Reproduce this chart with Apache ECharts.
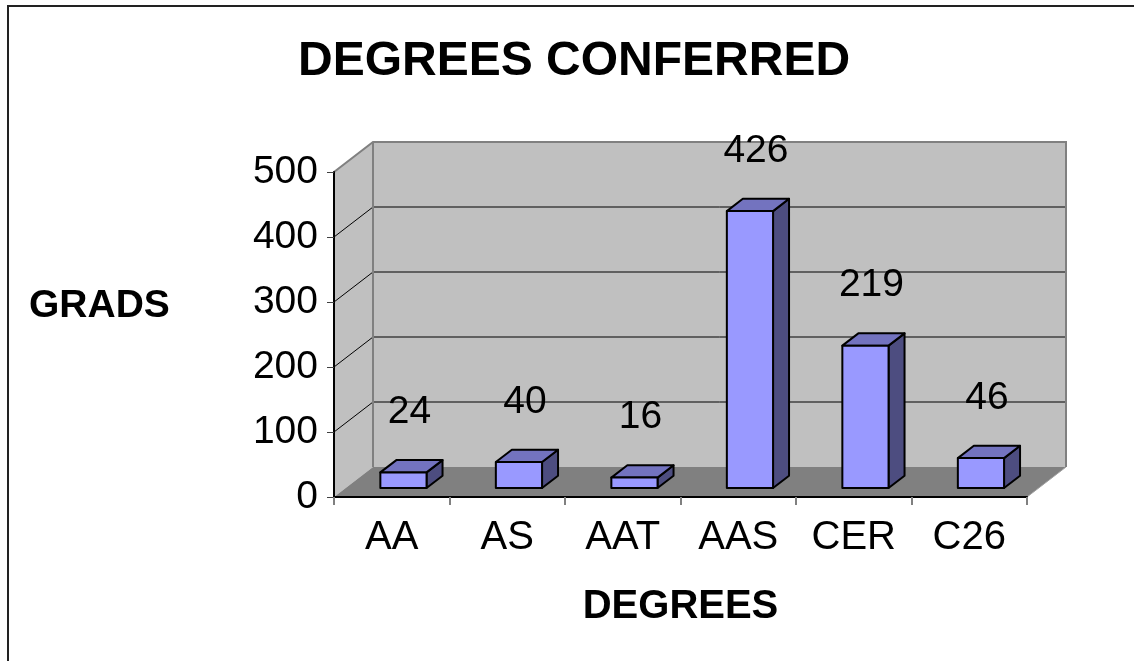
<!DOCTYPE html>
<html>
<head>
<meta charset="utf-8">
<title>Degrees Conferred</title>
<script src="https://cdn.jsdelivr.net/npm/echarts@6/dist/echarts.min.js"></script>
<style>
  html, body { margin: 0; padding: 0; background: #fff; }
  #main { width: 1134px; height: 661px; }
</style>
</head>
<body>
<div id="main"></div>
<script>
// chart data
var degrees = ['AA', 'AS', 'AAT', 'AAS', 'CER', 'C26'];
var grads = [24, 40, 16, 426, 219, 46];
var gradTicks = [0, 100, 200, 300, 400, 500];

var FONT = '"Liberation Sans", Arial, sans-serif';
var DX = 39, DY = 30;                   // depth of the 3d box (px)
var BAR_FRONT = 0.3, BAR_DEPTH = 0.41;  // where the bars sit inside that depth
var BAR_W = 0.4;                        // bar width as share of a category

var chart = echarts.init(document.getElementById('main'));

// back wall, side wall, floor and gridlines
function renderWalls(params, api) {
    var cs = params.coordSys;
    var x0 = cs.x, x1 = cs.x + cs.width;
    var top = gradTicks[gradTicks.length - 1];
    var yb = api.coord([0, 0])[1], yt = api.coord([0, top])[1];
    var kids = [];
    kids.push({type: 'polygon', shape: {points: [[x0, yt], [x0 + DX, yt - DY], [x0 + DX, yb - DY], [x0, yb]]}, style: {fill: '#c0c0c0'}});
    kids.push({type: 'rect', shape: {x: x0 + DX, y: yt - DY, width: x1 - x0, height: yb - yt}, style: {fill: '#c0c0c0'}});
    kids.push({type: 'polygon', shape: {points: [[x0, yb], [x0 + DX, yb - DY], [x1 + DX, yb - DY], [x1, yb]]}, style: {fill: '#808080'}});
    gradTicks.forEach(function (v) {
        if (v === 0 || v === top) return;
        var y = api.coord([0, v])[1];
        kids.push({type: 'polyline', shape: {points: [[x0, y], [x0 + DX, y - DY], [x1 + DX, y - DY]]}, style: {stroke: '#000', lineWidth: 1, fill: null}});
    });
    // wall edges
    kids.push({type: 'polyline', shape: {points: [[x0, yt], [x0 + DX, yt - DY], [x1 + DX, yt - DY], [x1 + DX, yb - DY]]}, style: {stroke: '#808080', lineWidth: 2, fill: null}});
    kids.push({type: 'line', shape: {x1: x0 + DX, y1: yt - DY, x2: x0 + DX, y2: yb - DY}, style: {stroke: '#808080', lineWidth: 2}});
    kids.push({type: 'line', shape: {x1: x1, y1: yb, x2: x1 + DX, y2: yb - DY}, style: {stroke: '#a0a0a0', lineWidth: 1}});
    return {type: 'group', children: kids};
}

// 3d looking bar + its value label
function renderBar(params, api) {
    var i = api.value(0), v = api.value(1);
    var base = api.coord([i, 0]), tip = api.coord([i, v]);
    var w = api.size([1, 0])[0] * BAR_W;
    var ox = DX * BAR_FRONT, oy = DY * BAR_FRONT;
    var dx = DX * BAR_DEPTH, dy = DY * BAR_DEPTH;
    var l = base[0] + ox - w / 2, r = l + w;
    var yb = base[1] - oy, yt = tip[1] - oy;
    function st(fill) {
        return {fill: fill, stroke: '#000', lineWidth: 2, lineJoin: 'round'};
    }
    return {type: 'group', children: [
        {type: 'polygon', shape: {points: [[r, yt], [r + dx, yt - dy], [r + dx, yb - dy], [r, yb]]}, style: st('#4d4d80')},
        {type: 'polygon', shape: {points: [[l, yt], [l + dx, yt - dy], [r + dx, yt - dy], [r, yt]]}, style: st('#7373bf')},
        {type: 'rect', shape: {x: l, y: yt, width: w, height: yb - yt}, style: st('#9999ff')},
        {type: 'text', style: {text: String(v), x: base[0] + ox + 6, y: yt - 60, align: 'center', verticalAlign: 'middle',
            fontSize: 39, fontFamily: FONT, fill: '#000'}}
    ]};
}

var option = {
    animation: false,
    backgroundColor: '#fff',
    title: [
        {text: 'DEGREES CONFERRED', left: 298, top: 38, padding: 0,
            textStyle: {fontFamily: FONT, fontSize: 48, fontWeight: 'bold', color: '#000'}},
        {text: 'GRADS', left: 29, top: 287, padding: 0,
            textStyle: {fontFamily: FONT, fontSize: 39, fontWeight: 'bold', color: '#000'}}
    ],
    graphic: [
        {type: 'rect', shape: {x: 8, y: 6, width: 1300, height: 800}, style: {fill: null, stroke: '#222', lineWidth: 2}}
    ],
    grid: {left: 334, right: 107, top: 172, bottom: 164, containLabel: false, outerBoundsMode: 'none'},
    xAxis: {
        type: 'category', data: degrees, z: 5,
        name: 'DEGREES', nameLocation: 'middle', nameGap: 90,
        nameTextStyle: {fontFamily: FONT, fontSize: 40, fontWeight: 'bold', color: '#000'},
        axisLine: {show: true, lineStyle: {color: '#000', width: 2}},
        axisTick: {show: true, length: 8, lineStyle: {color: '#808080', width: 2}},
        axisLabel: {margin: 21, fontFamily: FONT, fontSize: 40, color: '#000'},
        splitLine: {show: false}
    },
    yAxis: {
        type: 'value', min: 0, max: 500, interval: 100, z: 5,
        axisLine: {show: true, lineStyle: {color: '#000', width: 2}},
        axisTick: {show: true, length: 7, lineStyle: {color: '#404040', width: 1}},
        axisLabel: {margin: 16, fontFamily: FONT, fontSize: 39, color: '#000'},
        splitLine: {show: false}
    },
    series: [
        {type: 'custom', renderItem: renderWalls, data: [[0, 0]], z: 1, silent: true, clip: false},
        {type: 'custom', renderItem: renderBar, encode: {x: 0, y: 1}, z: 3, clip: false,
            data: degrees.map(function (d, i) { return [i, grads[i]]; })}
    ]
};

chart.setOption(option);
</script>
</body>
</html>
